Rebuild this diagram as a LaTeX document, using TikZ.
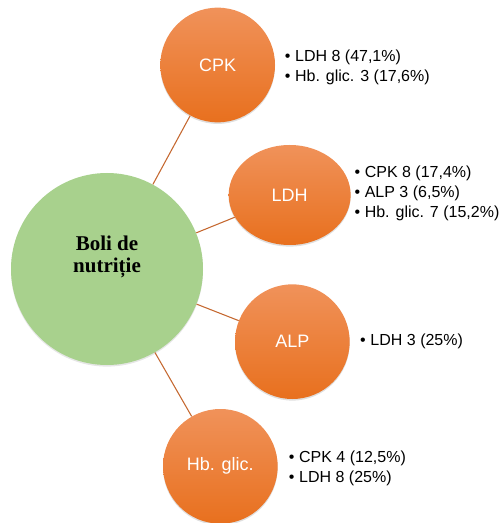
\documentclass[tikz,border=0pt]{standalone}
\usepackage{fontspec}
\setmainfont{Liberation Sans}
\newfontfamily\titlefont{Liberation Serif}
\usetikzlibrary{positioning,shapes.geometric,shadows}

\definecolor{mainfill}{RGB}{168,209,141}
\definecolor{subtop}{RGB}{240,146,90}
\definecolor{subbot}{RGB}{232,112,30}
\definecolor{linkcol}{RGB}{197,104,48}

\newcommand{\itm}{\textbullet\hspace{3.5pt}}

\begin{document}
\begin{tikzpicture}[x=0.75pt,y=-0.75pt,on grid,
    main/.style={circle,fill=mainfill,minimum size=144pt,inner sep=0pt,
        drop shadow={shadow xshift=0pt,shadow yshift=-1.2pt,opacity=0.2}},
    sub/.style={circle,top color=subtop,bottom color=subbot,minimum size=86pt,
        inner sep=0pt,text=white,font=\fontsize{13.5}{16}\selectfont,
        drop shadow={shadow xshift=0pt,shadow yshift=-1.2pt,opacity=0.25}},
    info/.style={anchor=west,inner sep=0pt,align=left,font=\fontsize{12}{15}\selectfont},
    link/.style={draw=linkcol,line width=0.8pt}]
    \useasboundingbox (0,0) rectangle (503,523);

    \node[main] (boli) at (107,269)
        [label={[font=\titlefont\bfseries\fontsize{15.75}{16.5}\selectfont,
                 align=center,yshift=9pt]center:Boli de\\nutriție}] {};
    \node[sub] (cpk) [above right=153pt and 83pt of boli] {CPK};
    \node[sub,ellipse,minimum width=91.5pt,minimum height=75pt] (ldh)
        [above right=55.5pt and 137pt of boli] {LDH};
    \node[sub] (alp) [below right=54.5pt and 139pt of boli] {ALP};
    \node[sub] (hb) [below right=148pt and 85pt of boli] {Hb. glic.};

    % lists beside each circle
    \node[info] (cpklist) at ([xshift=7pt,yshift=-1.5pt]cpk.east)
        {\itm LDH 8 (47,1\%)\\\itm Hb. glic. 3 (17,6\%)};
    \node[info] (ldhlist) at ([xshift=2.5pt,yshift=1.5pt]ldh.east)
        {\itm CPK 8 (17,4\%)\\\itm ALP 3 (6,5\%)\\\itm Hb. glic. 7 (15,2\%)};
    \node[info] (alplist) at ([xshift=7.5pt]alp.east) {\itm LDH 3 (25\%)};
    \node[info] (hblist) at ([xshift=8pt,yshift=-1.5pt]hb.east)
        {\itm CPK 4 (12,5\%)\\\itm LDH 8 (25\%)};

    \path
    (boli) edge[link] (cpk)
           edge[link] (ldh)
           edge[link] (alp)
           edge[link] (hb);
\end{tikzpicture}
\end{document}
